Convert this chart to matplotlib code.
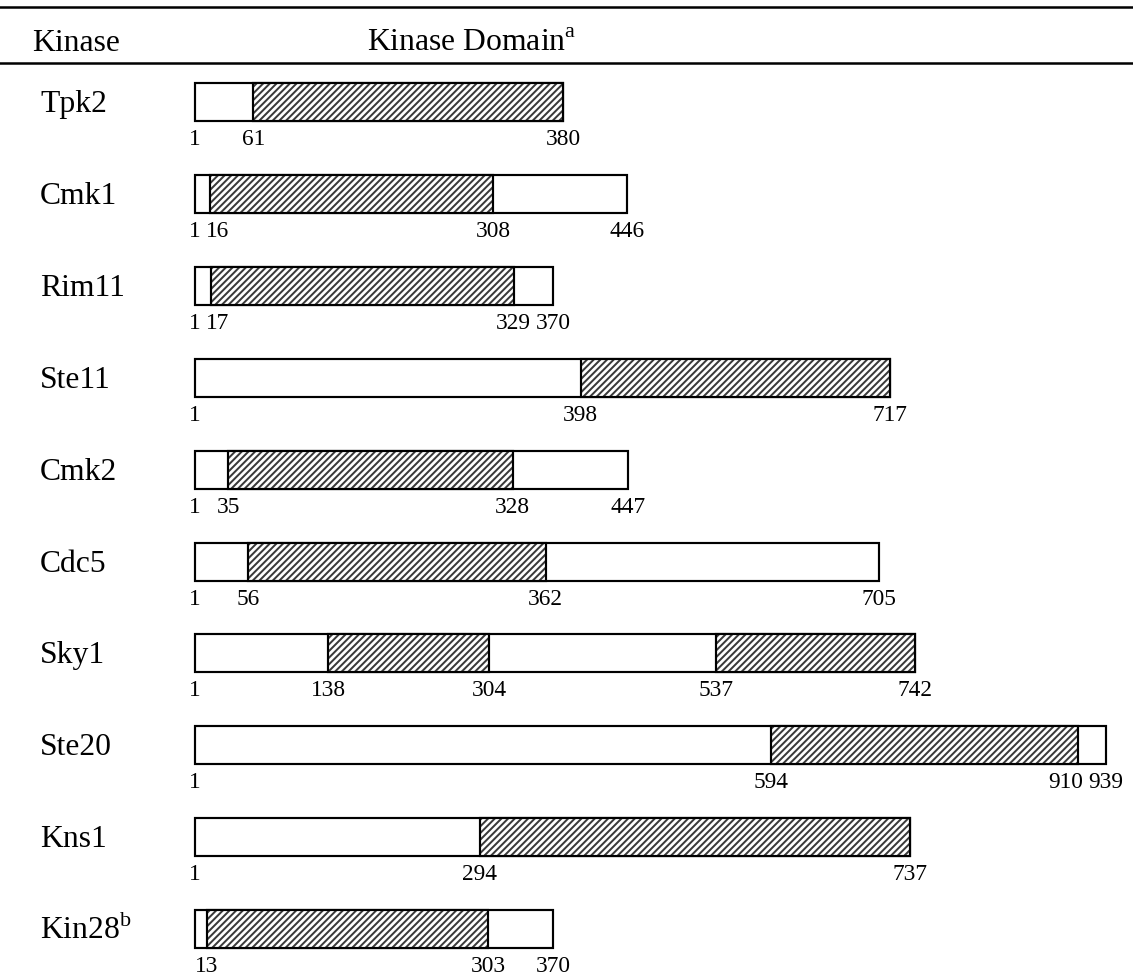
"""
Schematic of kinase domains along each protein sequence.
"""

import matplotlib.pyplot as plt

plt.rcParams['font.family'] = ['Liberation Serif', 'DejaVu Serif']
plt.rcParams['mathtext.fontset'] = 'custom'
plt.rcParams['mathtext.rm'] = 'Liberation Serif'
plt.rcParams['hatch.linewidth'] = 1.2

# Data: protein length and kinase domain boundaries (amino acid positions)
kinases = ['Tpk2', 'Cmk1', 'Rim11', 'Ste11', 'Cmk2', 'Cdc5', 'Sky1', 'Ste20', 'Kns1', 'Kin28']
lengths = [380, 446, 370, 717, 447, 705, 742, 939, 737, 370]
domain_starts = [[61], [16], [17], [398], [35], [56], [138, 537], [594], [294], [13]]
domain_ends = [[380], [308], [329], [717], [328], [362], [304, 742], [910], [737], [303]]
label_first = [True, True, True, True, True, True, True, True, True, False]
footnotes = ['', '', '', '', '', '', '', '', '', 'b']

# Create figure
W, H, dpi = 1133, 978, 120
fig = plt.figure(figsize=(W / dpi, H / dpi), dpi=dpi)
ax = fig.add_axes([0, 0, 1, 1])

# pixel layout -> data limits
px_per_aa = 0.9712
x0_px = 195          # where residue 1 sits
row0_px, row_px = 102, 91.9
ax.set_xlim(1 - x0_px / px_per_aa, 1 + (W - x0_px) / px_per_aa)
ax.set_ylim((H - row0_px) / row_px, -row0_px / row_px)
ax.axis('off')

bar_h = 38 / row_px
ytr = ax.get_yaxis_transform()
digit_px = 11.7      # rough width of one digit of the position labels
pt_per_px = 72 / dpi

# Header
ax.axhline((6.5 - row0_px) / row_px, color='black', lw=1.5)
ax.axhline((62.5 - row0_px) / row_px, color='black', lw=1.5)
head_y = (51 - row0_px) / row_px
ax.text(32 / W, head_y, 'Kinase', transform=ytr, fontsize=19, va='baseline', ha='left')
ax.text(367 / W, head_y, r'Kinase Domain$^{\mathrm{a}}$', transform=ytr,
        fontsize=19, va='baseline', ha='left')

for i, name in enumerate(kinases):
    # whole protein
    ax.barh(i, lengths[i] - 1, left=1, height=bar_h, facecolor='white',
            edgecolor='black', linewidth=1.3, zorder=2)
    # kinase domains
    for s, e in zip(domain_starts[i], domain_ends[i]):
        ax.barh(i, e - s, left=s, height=bar_h, facecolor='white',
                edgecolor='#3a3a3a', hatch='//////', linewidth=0, zorder=3)
        ax.barh(i, e - s, left=s, height=bar_h, fill=False,
                edgecolor='black', linewidth=1.3, zorder=4)

    # position labels, nudged apart where two sit too close
    marks = domain_starts[i] + domain_ends[i] + [lengths[i]]
    if label_first[i]:
        marks = [1] + marks
    marks = sorted(set(marks))
    shifts = [0.0] * len(marks)
    for k in range(1, len(marks)):
        need = (len(str(marks[k - 1])) + len(str(marks[k]))) * digit_px / 2 + 5
        have = (marks[k] - marks[k - 1]) * px_per_aa + shifts[k] - shifts[k - 1]
        if have < need:
            if marks[k - 1] == 1:
                shifts[k] += need - have
            else:
                shifts[k - 1] -= need - have
    for m, dx in zip(marks, shifts):
        ax.annotate(str(m), xy=(m, i + 0.468), xytext=(dx * pt_per_px, 0),
                    textcoords='offset points', fontsize=14,
                    ha='center', va='baseline')

    label = name
    if footnotes[i]:
        label = name + r'$^{\mathrm{' + footnotes[i] + '}}$'
    ax.text(40 / W, i + 0.109, label, transform=ytr, fontsize=19,
            va='baseline', ha='left')

plt.savefig('out.png', dpi=dpi)
